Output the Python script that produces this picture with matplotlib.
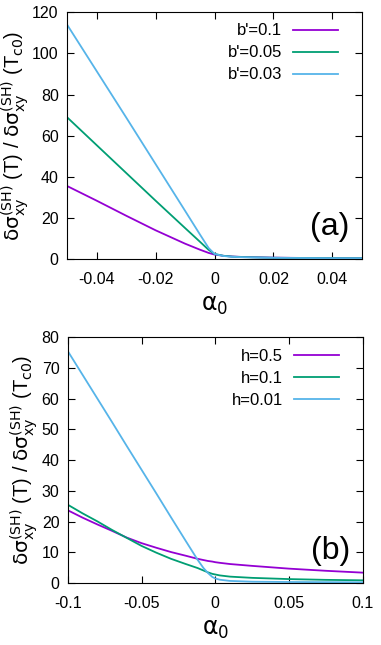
import matplotlib
matplotlib.use("Agg")
import matplotlib.pyplot as plt

plt.rcParams['font.family'] = ['Liberation Sans', 'DejaVu Sans']
plt.rcParams['mathtext.fontset'] = 'dejavusans'

# Panel (a)
xa = [-0.05, -0.04, -0.03, -0.02, -0.01, -0.005, -0.002, 0.0, 0.003, 0.006, 0.01, 0.02, 0.03, 0.04, 0.05]
ya_b01 = [35.6, 28.5, 21.2, 14.1, 7.6, 4.7, 3.1, 2.3, 1.7, 1.35, 1.1, 0.8, 0.65, 0.55, 0.5]
ya_b005 = [69, 55.5, 42, 28.5, 15.2, 8.6, 4.6, 2.6, 1.7, 1.3, 1.05, 0.75, 0.62, 0.55, 0.5]
ya_b003 = [114, 91.5, 69, 46.3, 23.6, 12.2, 5.5, 2.6, 1.6, 1.2, 1.0, 0.7, 0.6, 0.52, 0.48]
labels_a = ["b'=0.1", "b'=0.05", "b'=0.03"]

# Panel (b)
xb = [-0.1, -0.09, -0.08, -0.07, -0.06, -0.05, -0.04, -0.03, -0.02, -0.012, -0.008,
      -0.005, -0.002, 0.0, 0.003, 0.01, 0.025, 0.05, 0.075, 0.1]
yb_h05 = [23.7, 21.3, 19.1, 17.0, 14.8, 13.0, 11.5, 10.1, 8.9, 7.9, 7.5,
          7.2, 7.0, 6.8, 6.6, 6.2, 5.6, 4.7, 4.0, 3.4]
yb_h01 = [25.5, 22.7, 20.1, 17.3, 14.7, 12.1, 9.9, 7.9, 6.2, 4.9, 4.1,
          3.5, 3.0, 2.8, 2.5, 2.1, 1.7, 1.3, 1.05, 0.9]
yb_h001 = [75.5, 67.8, 60.1, 52.4, 44.6, 36.9, 29.2, 21.4, 13.7, 7.6, 4.9,
           3.3, 2.0, 1.5, 1.1, 0.7, 0.45, 0.35, 0.3, 0.25]
labels_b = ["h=0.5", "h=0.1", "h=0.01"]

colors = ['#9400d3', '#009e73', '#56b4e9']

fig = plt.figure(figsize=(3.81, 6.45), dpi=100)
ax1 = fig.add_axes([0.176, 0.598, 0.774, 0.383])
ax2 = fig.add_axes([0.178, 0.096, 0.774, 0.381])

ylabel = (r'$\mathrm{\delta\sigma}^{(\mathrm{SH})}_{\mathrm{xy}}$ (T) / '
          r'$\mathrm{\delta\sigma}^{(\mathrm{SH})}_{\mathrm{xy}}$ (T$_{\mathrm{c0}}$)')

for ax, x, ys, labs, xlim, ylim, xt, yt, tag in [
    (ax1, xa, [ya_b01, ya_b005, ya_b003], labels_a, (-0.05, 0.05), (0, 120),
     [-0.04, -0.02, 0, 0.02, 0.04], [0, 20, 40, 60, 80, 100, 120], '(a)'),
    (ax2, xb, [yb_h05, yb_h01, yb_h001], labels_b, (-0.1, 0.1), (0, 80),
     [-0.1, -0.05, 0, 0.05, 0.1], [0, 10, 20, 30, 40, 50, 60, 70, 80], '(b)')]:
    for y, lab, c in zip(ys, labs, colors):
        ax.plot(x, y, color=c, lw=1.3, label=lab)
    ax.set_xlim(*xlim)
    ax.set_ylim(*ylim)
    ax.set_xticks(xt)
    ax.set_xticklabels(['0' if v == 0 else ('%g' % v) for v in xt])
    ax.set_yticks(yt)
    ax.tick_params(axis='both', direction='in', top=True, right=True, labelsize=11.5,
                   length=5, width=0.8)
    ax.tick_params(axis='x', pad=9)
    ax.tick_params(axis='y', pad=6)
    ax.set_ylabel(ylabel, fontsize=14.5, labelpad=1)
    ax.set_xlabel(r'$\mathrm{\alpha}_0$', fontsize=17, labelpad=6)
    ax.legend(loc='upper right', frameon=False, markerfirst=False, fontsize=12,
              handlelength=2.7, handletextpad=0.65, labelspacing=0.42,
              borderaxespad=0.2, bbox_to_anchor=(0.952, 0.995))
    ax.text(0.89, 0.13, tag, transform=ax.transAxes, fontsize=23, ha='center', va='center')
    for s in ax.spines.values():
        s.set_linewidth(0.8)

fig.savefig('out.png', dpi=100)
